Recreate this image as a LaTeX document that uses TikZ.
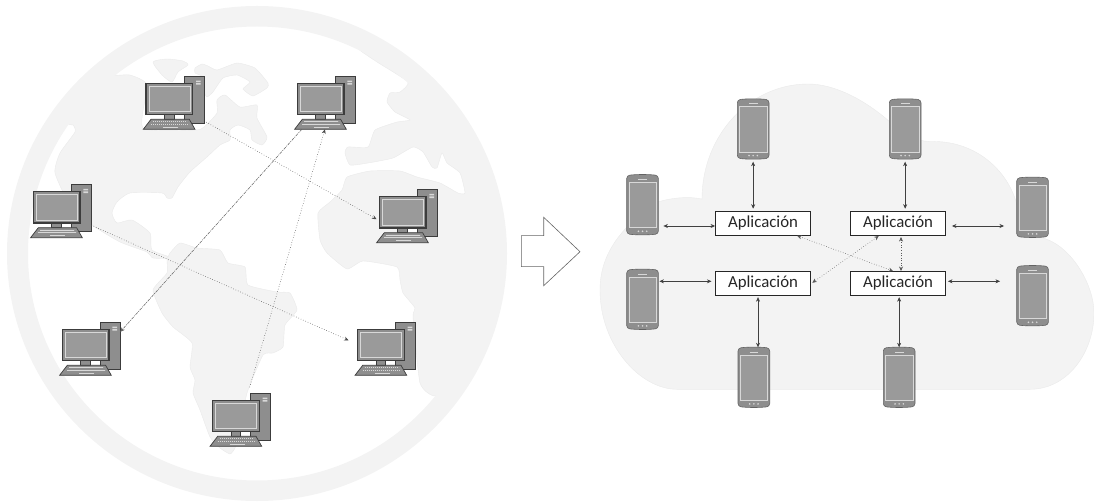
\documentclass[tikz,border=0pt]{standalone}
\usepackage{fontspec}
\setmainfont{Carlito}
\usetikzlibrary{arrows.meta,calc}
\definecolor{land}{HTML}{F3F3F3}
\definecolor{landedge}{HTML}{EAEAEA}
\definecolor{devfill}{HTML}{8E8E8E}
\definecolor{devscreen}{HTML}{9A9A9A}
\definecolor{devedge}{HTML}{3C3C3C}
\definecolor{devlight}{HTML}{D8D8D8}
\tikzset{
  x=1pt,y=-1pt,
  landshape/.style={fill=land,draw=landedge,line width=0.4pt},
  anchorbox/.style={inner sep=0pt,outer sep=0pt,minimum width=#1},
  pcbody/.pic={
    \node[anchorbox=60.7pt,minimum height=53.3pt] (-n) at (27.65,19.35) {};
    \fill[white] (18,31) rectangle (40,37);
    \draw[fill=devfill,draw=devedge,line width=0.9pt] (38,-7.3) rectangle (58,40);
    \fill[devlight] (50,-2.7) rectangle (54.7,-1.2) (50,-0.2) rectangle (54.7,1.4);
    \draw[fill=devfill,draw=devedge,line width=0.6pt] (18.3,31.3) rectangle (28,36);
    \draw[fill=devfill,draw=devedge,line width=1.1pt] (0,0) rectangle (46.7,31.3);
    \draw[fill=devscreen,draw=devlight,line width=0.7pt] (3,2.7) rectangle (44,28.3);
    \draw[fill=devfill,draw=devedge,line width=0.7pt] (5,36) -- (43.3,36) -- (49,46) -- (-2.7,46) -- cycle;
    \draw[devlight,line width=1pt,dash pattern=on 1.2pt off 0.8pt] (7,38.6) -- (41,38.6);
    \draw[devlight,line width=1pt,dash pattern=on 1.2pt off 0.8pt] (5,41.2) -- (43,41.2);
    \draw[devlight,line width=1pt] (17,43.8) -- (32,43.8);
  },
  phonebody/.pic={
    \node[anchorbox=31.7pt,minimum height=60pt] (-n) at (15.85,30) {};
    \draw[fill=devfill,draw=devedge!80,line width=0.6pt,rounded corners=3pt] (0,0.8) .. controls (10,-0.4) and (21.7,-0.4) .. (31.7,0.8) -- (31.7,59.2) .. controls (21.7,60.4) and (10,60.4) .. (0,59.2) -- cycle;
    \draw[fill=devscreen,draw=devlight,line width=0.6pt] (2.2,7.8) rectangle (29.5,53);
    \draw[devlight,line width=0.8pt] (11.7,4.7) -- (20.3,4.7);
    \fill[devlight] (11.7,56.6) circle (0.9) (15.85,56.6) circle (0.9) (20,56.6) circle (0.9);
  },
  appbox/.style={draw=black!85,fill=white,line width=0.6pt,minimum width=95.3pt,minimum height=24pt,inner sep=0pt,font=\fontsize{16.8}{18}\selectfont,text=black!85},
  wan/.style={draw=black!70,line width=0.55pt,dotted,-{Stealth[length=4.5pt,width=4pt]}},
  wandash/.style={draw=black!60,line width=0.55pt,dash pattern=on 3pt off 1pt on 1pt off 1pt,-{Stealth[length=4.5pt,width=4pt]}},
  link/.style={draw=black!75,line width=0.55pt,{Stealth[length=4.5pt,width=4pt]}-{Stealth[length=4.5pt,width=4pt]}},
  linkdot/.style={draw=black!65,line width=0.55pt,dotted,{Stealth[length=4.5pt,width=4pt]}-{Stealth[length=4.5pt,width=4pt]}},
}
\begin{document}
\begin{tikzpicture}
\useasboundingbox (0,0) rectangle (1094,502);
% globe lands
\begin{scope}
\clip (257,253.5) circle (245);
\draw[landshape] plot[smooth cycle,tension=0.35] coordinates {
 (115,75)(130,75)(147,85)(143,128)(195,130)(204,127)(217,113)(217,100)(225,95)(240,107)(257,105)(257,118)(267,137)(262,145)(252,140)(250,130)(238,125)(230,130)(230,140)(220,145)(207,157)(190,172)(178,187)(172,198)(167,198)(162,193)(130,193)(117,202)(112,213)(117,223)(132,220)(150,233)(152,250)(172,258)(153,258)(147,252)(120,242)(92,225)(70,205)(55,173)(60,153)(75,132)(73,125)(68,124)(60,110)(100,65)};
\draw[landshape] plot[smooth cycle,tension=0.4] coordinates {(153,62)(167,59)(183,61)(188,65)(178,72)(172,82)(162,75)};
\draw[landshape] plot[smooth cycle,tension=0.3] coordinates {(195,68)(202,64)(208,66)(217,70)(237,63)(255,68)(268,83)(267,88)(253,96)(243,89)(250,82)(237,75)(223,78)(213,92)(207,97)(204,92)(203,77)(195,73)};
\draw[landshape] plot[smooth cycle,tension=0.3] coordinates {
 (360,50)(377,62)(408,82)(400,92)(390,93)(387,102)(395,112)(410,120)(397,122)(375,130)(368,147)(348,147)(345,153)(350,165)(368,163)(393,158)(413,147)(423,152)(432,167)(437,168)(442,153)(447,163)(460,173)(465,193)(458,193)(440,183)(417,177)(400,171)(370,171)(347,177)(342,190)(330,202)(318,213)(320,240)(327,253)(347,269)(363,261)(397,267)(400,280)(403,293)(415,308)(413,317)(420,383)(435,396)(470,380)(495,300)(480,150)(420,80)};
\draw[landshape] plot[smooth cycle,tension=0.3] coordinates {
 (180,243)(197,248)(220,250)(228,263)(245,267)(248,285)(277,292)(290,293)(297,310)(285,325)(283,347)(273,353)(263,355)(247,393)(240,430)(235,448)(230,454)(220,448)(210,437)(200,410)(193,393)(195,380)(190,367)(192,343)(173,327)(162,313)(153,290)(167,273)(167,260)(170,253)};
\end{scope}
% globe ring
\fill[land,even odd rule] (257,253.5) circle (250 and 247.5) (257,253.5) circle (229 and 227);
% computers
\pic (pc1) at (146,83.3) {pcbody};
\pic (pc2) at (297.3,83.3) {pcbody};
\pic (pc3) at (33.3,191.7) {pcbody};
\pic (pc4) at (379.3,196.7) {pcbody};
\pic (pc5) at (62.3,329.3) {pcbody};
\pic (pc6) at (357.7,329.3) {pcbody};
\pic (pc7) at (212.7,400.3) {pcbody};
\draw[wan] (pc1-n.-31) -- (pc4-n.-174);
\draw[wan,shorten >=7pt] (pc3-n.-25) -- (pc6-n.170.6);
\draw[wandash] (pc2-n.-131.2) -- (pc5-n.29.3);
\draw[wan,shorten <=6pt] (pc7-n.74) -- (pc2-n.-90);
% block arrow
\draw[draw=black!60,line width=0.6pt,fill=white] (521.3,235.7) -- (543.7,235.7) -- (543.7,217.3) -- (580,251.7) -- (543.7,285.7) -- (543.7,266.7) -- (521.3,266.7) -- cycle;
% cloud
\draw[fill=land,draw=landedge,line width=0.4pt] (677,389.3) -- (1030,389.3)
  .. controls (1068,389.3) and (1094,352) .. (1094,313)
  .. controls (1094,285) and (1072,248) .. (1046,239)
  .. controls (1035,235) and (1025,232) .. (1017,205)
  .. controls (1008,170) and (975,140) .. (930,141.5)
  .. controls (915,141) and (902,135) .. (890,122)
  .. controls (865,100) and (835,84) .. (808,84)
  .. controls (750,84) and (702,135) .. (702,199)
  .. controls (688,196) and (670,198) .. (658,202)
  -- (627,227)
  .. controls (610,245) and (600,265) .. (600,290)
  .. controls (600,345) and (640,389.3) .. (677,389.3) -- cycle;
% phones
\pic (p1) at (737.3,99) {phonebody};
\pic (p2) at (889.3,99) {phonebody};
\pic (p3) at (626.7,174.7) {phonebody};
\pic (p4) at (1016.7,177.3) {phonebody};
\pic (p5) at (626.7,269.3) {phonebody};
\pic (p6) at (1016.7,265.7) {phonebody};
\pic (p7) at (738,347.3) {phonebody};
\pic (p8) at (883.3,347.3) {phonebody};
% application boxes
\node[appbox] (a1) at (763,223.3) {Aplicación};
\node[appbox] (a2) at (898,223.3) {Aplicación};
\node[appbox] (a3) at (763,283.5) {Aplicación};
\node[appbox] (a4) at (898,283.5) {Aplicación};
% links
\draw[link,shorten <=2.7pt,shorten >=2.3pt] (p1-n.south) -- (p1-n.south |- a1.north);
\draw[link,shorten <=2.7pt,shorten >=2.3pt] (p2-n.south) -- (p2-n.south |- a2.north);
\draw[link,shorten >=5pt] ([yshift=-2.7pt]a1.west) -- ([yshift=-2.7pt]a1.west -| p3-n.east);
\draw[link,shorten <=6pt,shorten >=12.7pt] ([yshift=-2.7pt]a2.east) -- ([yshift=-2.7pt]a2.east -| p4-n.west);
\draw[link,shorten <=3.6pt,shorten >=1pt] ([yshift=2.2pt]a3.west) -- ([yshift=2.2pt]a3.west -| p5-n.east);
\draw[link,shorten <=2pt,shorten >=16.7pt] ([yshift=2.2pt]a4.east) -- ([yshift=2.2pt]a4.east -| p6-n.west);
\draw[link,shorten <=1.4pt] ([xshift=-5pt]a3.south) -- ([xshift=-5pt]a3.south |- p7-n.north);
\draw[link,shorten >=1.4pt] (p8-n.north) -- (p8-n.north |- a4.south);
\draw[linkdot,shorten <=0.5pt,shorten >=0.2pt] ([xshift=33.7pt]a1.south) -- ([xshift=-4.7pt]a4.north);
\draw[linkdot,shorten <=0.7pt,shorten >=1.6pt] ([xshift=-18.7pt]a2.south) -- ([yshift=-0.2pt]a3.east);
\draw[linkdot,shorten <=1.4pt,shorten >=0.2pt] ([xshift=3pt]a2.south) -- ([xshift=3pt]a4.north);
\end{tikzpicture}
\end{document}
